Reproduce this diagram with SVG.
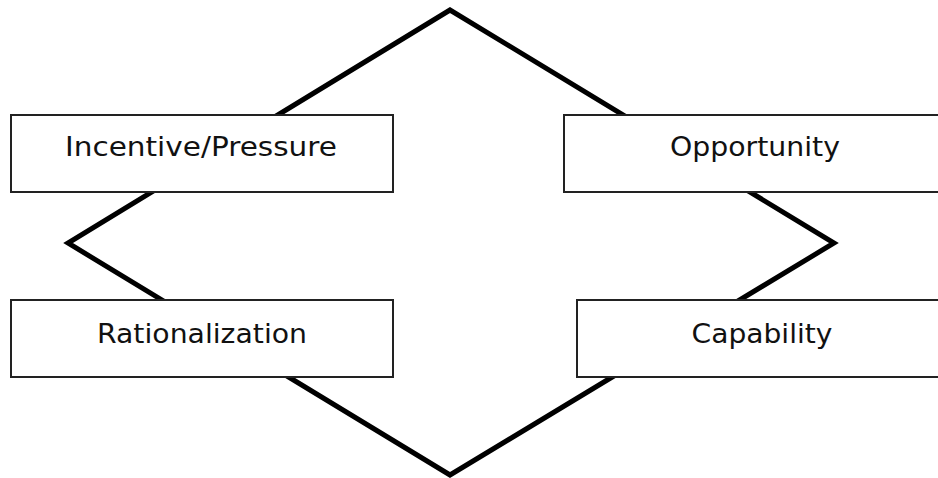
<svg xmlns="http://www.w3.org/2000/svg" width="938" height="478" viewBox="0 0 938 478">
  <style>
    .box { fill: #ffffff; stroke: #222222; stroke-width: 2; }
    .label { font-family: "DejaVu Sans", Verdana, sans-serif; font-size: 26px; fill: #111111; text-anchor: middle; }
    .edge { fill: none; stroke: #000000; stroke-width: 5; stroke-linejoin: miter; }
  </style>
  <rect width="938" height="478" fill="#ffffff"/>
  <g id="connectors">
    <polygon class="edge" points="450,10 68,243 450,475 834,243"/>
  </g>
  <g id="incentive">
    <rect class="box" x="11" y="115" width="382" height="77"/>
    <text class="label" x="201" y="156" textLength="272" lengthAdjust="spacingAndGlyphs">Incentive/Pressure</text>
  </g>
  <g id="opportunity">
    <rect class="box" x="564" y="115" width="384" height="77"/>
    <text class="label" x="755" y="156" textLength="170" lengthAdjust="spacingAndGlyphs">Opportunity</text>
  </g>
  <g id="rationalization">
    <rect class="box" x="11" y="300" width="382" height="77"/>
    <text class="label" x="202" y="343" textLength="210" lengthAdjust="spacingAndGlyphs">Rationalization</text>
  </g>
  <g id="capability">
    <rect class="box" x="577" y="300" width="384" height="77"/>
    <text class="label" x="762" y="343" textLength="141" lengthAdjust="spacingAndGlyphs">Capability</text>
  </g>
</svg>
